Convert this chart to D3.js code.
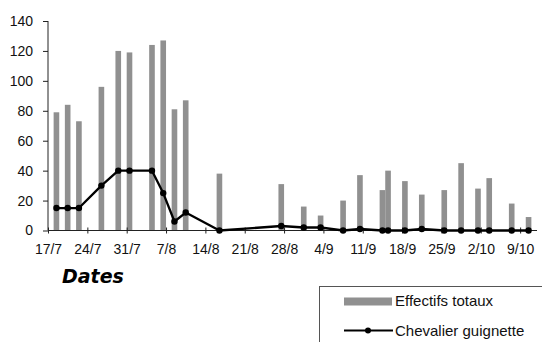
<!DOCTYPE html>
<html>
<head>
<meta charset="utf-8">
<script src="https://cdn.jsdelivr.net/npm/d3@7"></script>
<style>
  html, body { margin: 0; padding: 0; background: #fff; }
  svg { display: block; }
</style>
</head>
<body>
<svg id="chart" width="542" height="342"></svg>
<script>
// Survey dates (day/month) and counts
const dates = ["18/7","20/7","22/7","26/7","29/7","31/7","4/8","6/8","8/8","10/8","16/8",
               "27/8","31/8","3/9","7/9","10/9","14/9","15/9","18/9","21/9","25/9","28/9",
               "1/10","3/10","7/10","10/10"];
const effectifsTotaux = [79,84,73,96,120,119,124,127,81,87,38,
                         31,16,10,20,37,27,40,33,24,27,45,
                         28,35,18,9];
const chevalierGuignette = [15,15,15,30,40,40,40,25,6,12,0,
                            3,2,2,0,1,0,0,0,1,0,0,
                            0,0,0,0];
const xTickLabels = ["17/7","24/7","31/7","7/8","14/8","21/8","28/8","4/9","11/9","18/9","25/9","2/10","9/10"];
const yTicks = [0,20,40,60,80,100,120,140];
const seriesNames = ["Effectifs totaux", "Chevalier guignette"];
const axisTitle = "Dates";

const YEAR = 2001;
const parseDM = s => { const [d, m] = s.split("/").map(Number); return new Date(YEAR, m - 1, d); };

const svg = d3.select("#chart");
const font = "'Liberation Sans', Arial, Helvetica, sans-serif";

const xStart = parseDM("17/7");
const xEnd = d3.timeDay.offset(parseDM("10/10"), 2);
const x = d3.scaleTime().domain([xStart, xEnd]).range([48, 537]);
const y = d3.scaleLinear().domain([0, 140]).range([230.5, 21]);

const dayW = x(d3.timeDay.offset(xStart, 1)) - x(xStart);
const centre = s => x(d3.timeHour.offset(parseDM(s), 12));

// Bars: total counts
svg.append("g")
  .selectAll("rect")
  .data(dates.map((d, i) => ({ d, v: effectifsTotaux[i] })))
  .join("rect")
  .attr("x", p => centre(p.d) - dayW / 2)
  .attr("width", dayW)
  .attr("y", p => y(p.v))
  .attr("height", p => y(0) - y(p.v))
  .attr("fill", "#909090");

// Y axis
const yAxis = svg.append("g").attr("transform", "translate(48,0)")
  .call(d3.axisLeft(y).tickValues(yTicks).tickSize(5).tickPadding(10));
yAxis.select(".domain").attr("stroke", "#222").attr("d", `M0,${y(140)}V${y(0)}`);
yAxis.selectAll(".tick line").attr("stroke", "#222");
yAxis.selectAll("text").attr("font-family", font).attr("font-size", 14).attr("fill", "#111");

// X axis (weekly ticks crossing the axis line)
const xTickDates = xTickLabels.map(parseDM);
const xAxis = svg.append("g").attr("transform", `translate(0,${y(0)})`)
  .call(d3.axisBottom(x).tickValues(xTickDates).tickSize(0).tickPadding(14)
    .tickFormat((d, i) => xTickLabels[i]));
xAxis.select(".domain").attr("stroke", "#222").attr("d", `M48,0H537`);
xAxis.selectAll(".tick").append("line")
  .attr("y1", -3).attr("y2", 3).attr("stroke", "#222");
xAxis.selectAll("text").attr("font-family", font).attr("font-size", 14).attr("fill", "#111");

// Line: Chevalier guignette
const pts = dates.map((d, i) => ({ d, v: chevalierGuignette[i] }));
svg.append("path")
  .datum(pts)
  .attr("fill", "none")
  .attr("stroke", "#000")
  .attr("stroke-width", 2.3)
  .attr("stroke-linejoin", "round")
  .attr("d", d3.line().x(p => centre(p.d)).y(p => y(p.v)));
svg.append("g")
  .selectAll("circle")
  .data(pts)
  .join("circle")
  .attr("cx", p => centre(p.d))
  .attr("cy", p => y(p.v))
  .attr("r", 3.2)
  .attr("fill", "#000");

// Axis title
svg.append("text")
  .attr("x", 62).attr("y", 283)
  .attr("font-family", "'DejaVu Sans', Verdana, sans-serif")
  .attr("font-weight", "bold").attr("font-style", "italic")
  .attr("font-size", 19)
  .attr("fill", "#000")
  .text(axisTitle);

// Legend
const lg = svg.append("g");
lg.append("rect")
  .attr("x", 319.5).attr("y", 286.5).attr("width", 240).attr("height", 80)
  .attr("fill", "#fff").attr("stroke", "#555").attr("stroke-width", 1);
lg.append("rect")
  .attr("x", 344).attr("y", 297.5).attr("width", 48).attr("height", 8)
  .attr("fill", "#909090");
lg.append("line")
  .attr("x1", 344).attr("x2", 393).attr("y1", 330.5).attr("y2", 330.5)
  .attr("stroke", "#000").attr("stroke-width", 2);
lg.append("circle").attr("cx", 368).attr("cy", 330.5).attr("r", 3).attr("fill", "#000");
lg.selectAll("text.lbl")
  .data(seriesNames)
  .join("text")
  .attr("class", "lbl")
  .attr("x", 395)
  .attr("y", (d, i) => i === 0 ? 306 : 335.5)
  .attr("font-family", font).attr("font-size", 15).attr("fill", "#111")
  .text(d => d);
</script>
</body>
</html>
